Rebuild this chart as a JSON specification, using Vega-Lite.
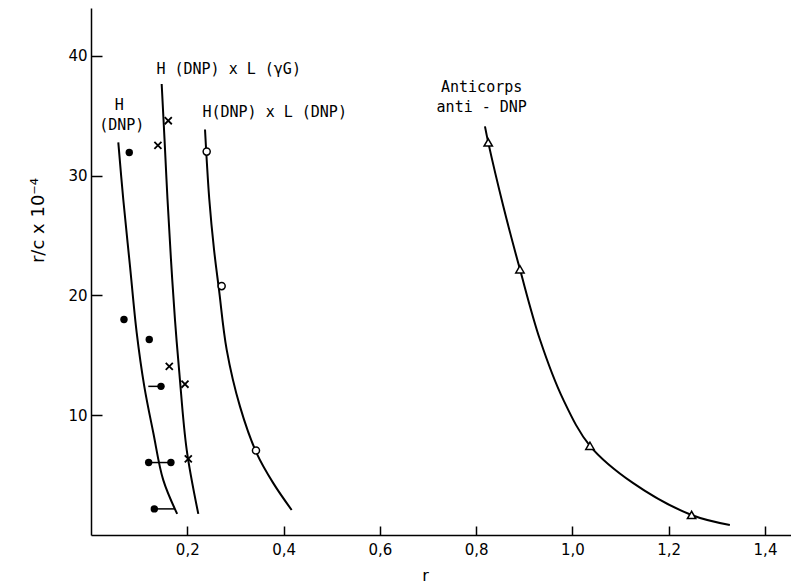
{
  "$schema": "https://vega.github.io/schema/vega-lite/v6.json",
  "width": 700,
  "height": 527,
  "autosize": "none",
  "padding": {"left": 91, "top": 8, "right": 0, "bottom": 49},
  "background": "white",
  "config": {
    "view": {"stroke": null},
    "font": "DejaVu Sans",
    "axis": {
      "domainColor": "black", "domainWidth": 1.5, "tickColor": "black", "tickWidth": 1.5,
      "grid": false, "labelColor": "black", "titleColor": "black",
      "labelFont": "DejaVu Sans", "titleFont": "DejaVu Sans", "labelFontSize": 15, "titleFontSize": 16, "titleFontWeight": "normal"
    }
  },
  "datasets": {
    "curves": [
      {"series": "H(DNP)", "x": 0.0567, "y": 32.78},
      {"series": "H(DNP)", "x": 0.067, "y": 28.03},
      {"series": "H(DNP)", "x": 0.081, "y": 22.45},
      {"series": "H(DNP)", "x": 0.0949, "y": 16.9},
      {"series": "H(DNP)", "x": 0.1107, "y": 12.41},
      {"series": "H(DNP)", "x": 0.1294, "y": 8.54},
      {"series": "H(DNP)", "x": 0.150, "y": 4.60},
      {"series": "H(DNP)", "x": 0.179, "y": 1.76},
      {"series": "HxLgG", "x": 0.1468, "y": 37.66},
      {"series": "HxLgG", "x": 0.1527, "y": 33.05},
      {"series": "HxLgG", "x": 0.1589, "y": 28.03},
      {"series": "HxLgG", "x": 0.1661, "y": 23.01},
      {"series": "HxLgG", "x": 0.1744, "y": 17.99},
      {"series": "HxLgG", "x": 0.1838, "y": 13.39},
      {"series": "HxLgG", "x": 0.1988, "y": 7.11},
      {"series": "HxLgG", "x": 0.2229, "y": 1.76},
      {"series": "HxLDNP", "x": 0.2368, "y": 33.85},
      {"series": "HxLDNP", "x": 0.2457, "y": 28.03},
      {"series": "HxLDNP", "x": 0.2555, "y": 23.85},
      {"series": "HxLDNP", "x": 0.2658, "y": 20.50},
      {"series": "HxLDNP", "x": 0.2818, "y": 15.48},
      {"series": "HxLDNP", "x": 0.3094, "y": 10.74},
      {"series": "HxLDNP", "x": 0.344, "y": 6.84},
      {"series": "HxLDNP", "x": 0.3786, "y": 4.33},
      {"series": "HxLDNP", "x": 0.4168, "y": 2.09},
      {"series": "Ac", "x": 0.8183, "y": 34.12},
      {"series": "Ac", "x": 0.8251, "y": 32.78},
      {"series": "Ac", "x": 0.8563, "y": 27.47},
      {"series": "Ac", "x": 0.891, "y": 22.18},
      {"series": "Ac", "x": 0.9325, "y": 16.32},
      {"series": "Ac", "x": 0.981, "y": 11.30},
      {"series": "Ac", "x": 1.0364, "y": 7.45},
      {"series": "Ac", "x": 1.1263, "y": 4.33},
      {"series": "Ac", "x": 1.2475, "y": 1.67},
      {"series": "Ac", "x": 1.327, "y": 0.84}
    ],
    "points": [
      {"series": "H(DNP)", "x": 0.0795, "y": 31.94},
      {"series": "H(DNP)", "x": 0.0685, "y": 17.99},
      {"series": "H(DNP)", "x": 0.121, "y": 16.32},
      {"series": "H(DNP)", "x": 0.1454, "y": 12.41},
      {"series": "H(DNP)", "x": 0.1198, "y": 6.05},
      {"series": "H(DNP)", "x": 0.166, "y": 6.05},
      {"series": "H(DNP)", "x": 0.1315, "y": 2.18},
      {"series": "HxLgG", "x": 0.1605, "y": 34.59},
      {"series": "HxLgG", "x": 0.139, "y": 32.53},
      {"series": "HxLgG", "x": 0.1626, "y": 14.08},
      {"series": "HxLgG", "x": 0.1952, "y": 12.59},
      {"series": "HxLgG", "x": 0.2021, "y": 6.36},
      {"series": "HxLDNP", "x": 0.2403, "y": 32.01},
      {"series": "HxLDNP", "x": 0.2714, "y": 20.78},
      {"series": "HxLDNP", "x": 0.3427, "y": 7.05},
      {"series": "Ac", "x": 0.8251, "y": 32.78},
      {"series": "Ac", "x": 0.891, "y": 22.18},
      {"series": "Ac", "x": 1.0364, "y": 7.45},
      {"series": "Ac", "x": 1.2475, "y": 1.67}
    ],
    "segments": [
      {"y": 12.41, "x": 0.119, "x2": 0.1454},
      {"y": 6.05, "x": 0.1198, "x2": 0.166},
      {"y": 2.18, "x": 0.1315, "x2": 0.174}
    ],
    "labels": [
      {"text": "H", "x": 0.0588, "y": 35.9},
      {"text": "(DNP)", "x": 0.0638, "y": 34.23},
      {"text": "H (DNP) x L (γG)", "x": 0.286, "y": 38.91},
      {"text": "H(DNP) x L (DNP)", "x": 0.3815, "y": 35.29},
      {"text": "Anticorps", "x": 0.8114, "y": 37.38},
      {"text": "anti - DNP", "x": 0.8116, "y": 35.71}
    ]
  },
  "encoding": {
    "x": {
      "field": "x", "type": "quantitative",
      "scale": {"domain": [0, 1.454], "nice": false, "zero": false},
      "axis": {
        "values": [0.2, 0.4, 0.6, 0.8, 1.0, 1.2, 1.4],
        "labelExpr": "replace(format(datum.value, '.1f'), '.', ',')",
        "tickSize": -9, "labelPadding": 16,
        "title": "r", "titleX": 334, "titleY": 40, "titleBaseline": "middle", "titleAlign": "center"
      }
    },
    "y": {
      "field": "y", "type": "quantitative",
      "scale": {"domain": [0, 44], "nice": false, "zero": false},
      "axis": {
        "values": [10, 20, 30, 40],
        "tickSize": -11, "labelPadding": 15,
        "title": "r/c  x  10⁻⁴", "titleFontSize": 18, "titleX": -53, "titleY": 212, "titleAngle": -90,
        "titleBaseline": "middle", "titleAlign": "center"
      }
    }
  },
  "layer": [
    {
      "data": {"name": "curves"},
      "mark": {"type": "line", "color": "black", "strokeWidth": 2, "interpolate": "catmull-rom"},
      "encoding": {"detail": {"field": "series"}}
    },
    {
      "data": {"name": "segments"},
      "mark": {"type": "rule", "color": "black", "strokeWidth": 1.5},
      "encoding": {"x2": {"field": "x2"}}
    },
    {
      "data": {"name": "points"},
      "transform": [{"filter": "datum.series == 'H(DNP)'"}],
      "mark": {"type": "point", "shape": "circle", "filled": true, "color": "black", "size": 55, "opacity": 1}
    },
    {
      "data": {"name": "points"},
      "transform": [{"filter": "datum.series == 'HxLgG'"}],
      "mark": {"type": "point", "shape": "M-1,-1L1,1M1,-1L-1,1", "filled": false, "color": "black", "strokeWidth": 1.8, "size": 50, "opacity": 1}
    },
    {
      "data": {"name": "points"},
      "transform": [{"filter": "datum.series == 'HxLDNP'"}],
      "mark": {"type": "point", "shape": "circle", "filled": true, "fill": "white", "stroke": "black", "strokeWidth": 1.5, "size": 50, "opacity": 1}
    },
    {
      "data": {"name": "points"},
      "transform": [{"filter": "datum.series == 'Ac'"}],
      "mark": {"type": "point", "shape": "triangle-up", "filled": true, "fill": "white", "stroke": "black", "strokeWidth": 1.5, "size": 70, "opacity": 1}
    },
    {
      "data": {"name": "labels"},
      "mark": {"type": "text", "color": "black", "font": "DejaVu Sans Mono", "fontSize": 15, "align": "center", "baseline": "middle"},
      "encoding": {"text": {"field": "text"}}
    }
  ]
}
